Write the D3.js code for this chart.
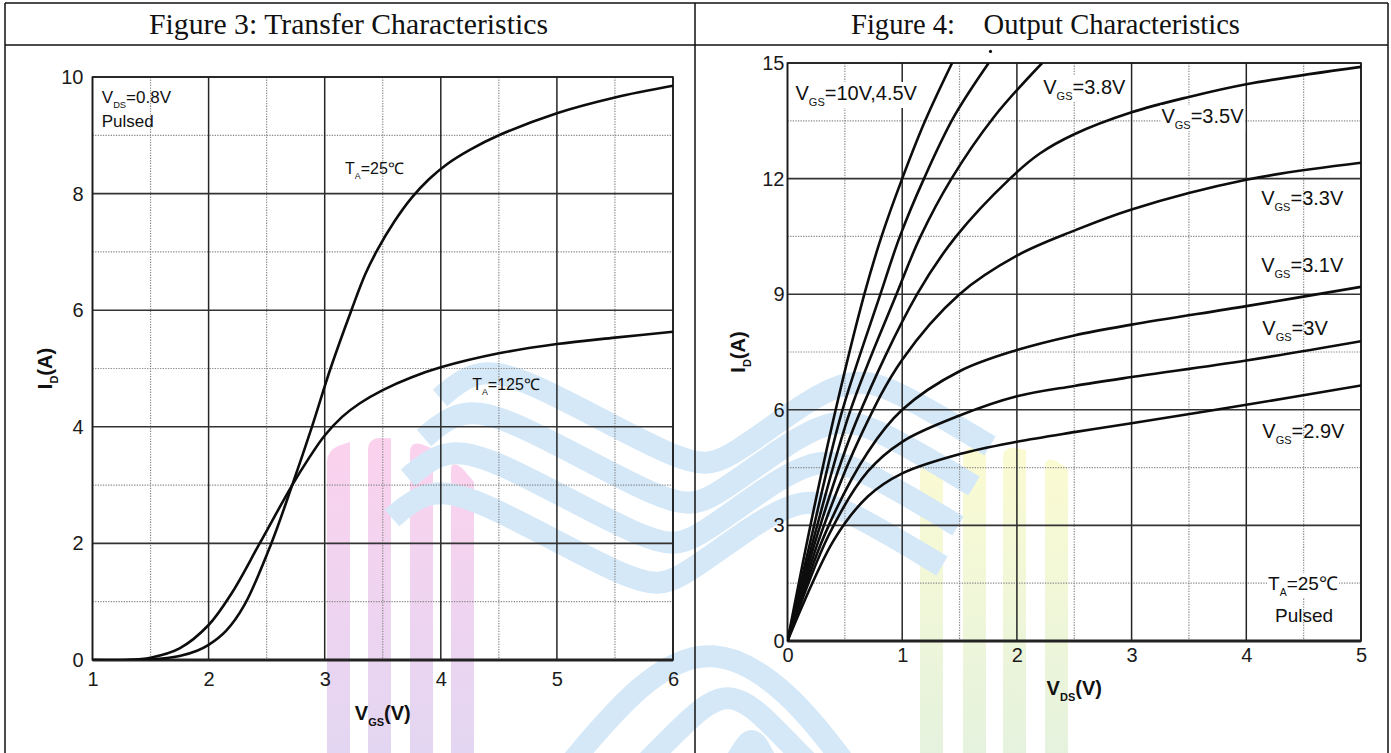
<!DOCTYPE html>
<html>
<head>
<meta charset="utf-8">
<script src="https://cdn.jsdelivr.net/npm/d3@7"></script>
<style>
  body { margin: 0; background: #fff; }
  svg { display: block; }
</style>
</head>
<body>
<svg id="chart" width="1391" height="753"></svg>
<script>
// ---------- Figure 3: transfer characteristics (VDS = 0.8 V) ----------
const transferTicksX = [1, 2, 3, 4, 5, 6];
const transferTicksY = [0, 2, 4, 6, 8, 10];
const transferMinorX = [1.5, 2.5, 3.5, 4.5, 5.5];
const transferMinorY = [1, 3, 5, 7, 9];

const vgs25 = [1.0, 1.3, 1.5, 1.75, 1.9, 2.0, 2.15, 2.31, 2.54, 2.72, 2.89, 3.05, 3.23, 3.35, 3.45, 3.6, 3.75, 3.9, 4.05, 4.25, 4.5, 5.0, 5.5, 6.0];
const id25  = [0, 0, 0.01, 0.07, 0.16, 0.26, 0.5, 0.95, 2.0, 3.0, 4.0, 5.0, 6.0, 6.62, 7.02, 7.52, 7.93, 8.25, 8.5, 8.75, 9.0, 9.38, 9.65, 9.85];

const vgs125 = [1.0, 1.3, 1.5, 1.75, 2.0, 2.2, 2.44, 2.72, 2.86, 3.0, 3.15, 3.3, 3.5, 3.75, 4.0, 4.5, 5.0, 5.5, 6.0];
const id125  = [0, 0, 0.04, 0.2, 0.6, 1.15, 2.0, 3.0, 3.45, 3.85, 4.17, 4.4, 4.63, 4.85, 5.02, 5.26, 5.42, 5.53, 5.63];

// ---------- Figure 4: output characteristics (TA = 25 C) ----------
const outputTicksX = [0, 1, 2, 3, 4, 5];
const outputTicksY = [0, 3, 6, 9, 12, 15];
const outputMinorX = [0.5, 1.5, 2.5, 3.5, 4.5];
const outputMinorY = [1.5, 4.5, 7.5, 10.5, 13.5];

const vds10V = [0, 0.2, 0.42, 0.67, 0.82, 1.0, 1.2, 1.435];
const id10V  = [0, 3.0, 6.0, 9.0, 10.5, 12.0, 13.5, 15.0];
const vds4V5 = [0, 0.22, 0.47, 0.81, 0.98, 1.19, 1.45, 1.754];
const id4V5  = [0, 2.85, 5.9, 9.0, 10.5, 12.0, 13.6, 15.0];
const vds3V8 = [0, 0.25, 0.55, 0.95, 1.16, 1.43, 1.8, 2.22];
const id3V8  = [0, 2.9, 6.0, 9.0, 10.5, 12.0, 13.6, 15.0];
const vds3V5 = [0, 0.27, 0.6, 1.13, 1.47, 1.94, 2.2, 2.5, 3.0, 3.5, 4.0, 5.0];
const id3V5  = [0, 2.85, 5.7, 9.0, 10.5, 12.0, 12.65, 13.15, 13.72, 14.12, 14.45, 14.9];
const vds3V3 = [0, 0.3, 0.65, 1.0, 1.5, 2.0, 2.5, 3.0, 4.0, 5.0];
const id3V3  = [0, 2.85, 5.4, 7.3, 9.0, 10.0, 10.65, 11.2, 11.97, 12.41];
const vds3V1 = [0, 0.33, 0.7, 1.0, 1.5, 2.0, 2.5, 3.0, 4.0, 5.0];
const id3V1  = [0, 2.8, 4.9, 6.0, 7.0, 7.55, 7.93, 8.21, 8.69, 9.19];
const vds3V  = [0, 0.36, 0.7, 1.0, 1.5, 2.0, 2.5, 3.0, 4.0, 5.0];
const id3V   = [0, 2.75, 4.4, 5.17, 5.85, 6.35, 6.62, 6.85, 7.28, 7.78];
const vds2V9 = [0, 0.4, 0.7, 1.0, 1.5, 2.0, 2.5, 3.0, 4.0, 5.0];
const id2V9  = [0, 2.6, 3.75, 4.35, 4.85, 5.17, 5.42, 5.65, 6.13, 6.63];

const W = 1391, H = 753;
const svg = d3.select("#chart");
const zip = (xs, ys) => xs.map((v, i) => [v, ys[i]]);

svg.append("rect").attr("width", W).attr("height", H).attr("fill", "#fff");

// ---------- faint logo watermark behind the plots ----------
const defs = svg.append("defs");
const gPink = defs.append("linearGradient").attr("id", "wmPink").attr("x1", 0).attr("x2", 0).attr("y1", 0).attr("y2", 1);
gPink.append("stop").attr("offset", "0%").attr("stop-color", "#fbd2ee");
gPink.append("stop").attr("offset", "100%").attr("stop-color", "#e3d6f2");
const gYellow = defs.append("linearGradient").attr("id", "wmYellow").attr("x1", 0).attr("x2", 0).attr("y1", 0).attr("y2", 1);
gYellow.append("stop").attr("offset", "0%").attr("stop-color", "#fbfbd2");
gYellow.append("stop").attr("offset", "100%").attr("stop-color", "#e5f2de");

const wm = svg.append("g").attr("class", "watermark");

function archBars(xs, barW, topY, cx, rx, ry, fill) {
  xs.forEach(x0 => {
    const p = d3.path();
    const top = x => topY + ry * (1 - Math.sqrt(Math.max(0, 1 - ((x - cx) / rx) ** 2)));
    const r = barW / 2;
    p.moveTo(x0, H);
    p.lineTo(x0, top(x0) + r);
    p.quadraticCurveTo(x0, top(x0), x0 + r, top(x0 + r));
    p.lineTo(x0 + barW, top(x0 + barW));
    p.lineTo(x0 + barW, H);
    p.closePath();
    wm.append("path").attr("d", p.toString()).attr("fill", fill);
  });
}
archBars([327, 368, 410, 451], 23, 438, 382, 105, 85, "url(#wmPink)");
archBars([920, 963, 1003, 1045], 23, 446, 990, 100, 60, "url(#wmYellow)");

const band = d3.line().curve(d3.curveBasis);
const waveBase = [[440, 398], [470, 372], [515, 370], [690, 470], [725, 462], [800, 405], [850, 378], [890, 386], [990, 446]];
for (let k = 0; k < 4; k++) {
  const pts = waveBase.map(([x, y]) => [x - 16 * k, y + 40 * k]);
  wm.append("path").attr("d", band(pts))
    .attr("fill", "none").attr("stroke", "#d4e8f8").attr("stroke-width", 22);
}
const archBase = [[565, 770], [640, 680], [712, 642], [790, 690], [850, 770]];
[[0, 0, 1], [60, 42, 0.62], [135, 85, 0.22]].forEach(([dx, dy, s]) => {
  const cx = 712;
  const pts = archBase.map(([x, y]) => [cx + (x - cx) * s + dx * 0.3, y + dy * (y < 760 ? 1 : 0)]);
  wm.append("path").attr("d", band(pts))
    .attr("fill", "none").attr("stroke", "#d4e8f8").attr("stroke-width", 22);
});

// ---------- shared drawing helpers ----------
const SANS = "'Liberation Sans', Arial, sans-serif";

function subText(g, x, y, parts, size, opts = {}) {
  const t = g.append("text")
    .attr("x", x).attr("y", y)
    .attr("font-family", SANS)
    .attr("font-size", size)
    .attr("font-weight", opts.bold ? "bold" : "normal")
    .attr("text-anchor", opts.anchor || "start")
    .attr("fill", "#111");
  let shifted = 0;
  parts.forEach(([str, sub]) => {
    const ts = t.append("tspan").text(str);
    if (sub) {
      ts.attr("font-size", size * 0.55).attr("dy", size * 0.3 - shifted);
      shifted = size * 0.3;
    } else if (shifted) {
      ts.attr("dy", -shifted);
      shifted = 0;
    }
  });
  return t;
}

function panel(cfg) {
  const { x, y, id } = cfg;
  const g = svg.append("g");
  const [x0, x1] = x.range();
  const [y0, y1] = y.range();

  g.append("clipPath").attr("id", id).append("rect")
    .attr("x", x0).attr("y", y1).attr("width", x1 - x0).attr("height", y0 - y1);

  // minor dotted grid
  g.selectAll(null).data(cfg.minorX).join("line")
    .attr("x1", d => x(d)).attr("x2", d => x(d)).attr("y1", y1).attr("y2", y0)
    .attr("stroke", "#8a8a8a").attr("stroke-width", 1.2).attr("stroke-dasharray", "1.3,1.3");
  g.selectAll(null).data(cfg.minorY).join("line")
    .attr("y1", d => y(d)).attr("y2", d => y(d)).attr("x1", x0).attr("x2", x1)
    .attr("stroke", "#8a8a8a").attr("stroke-width", 1.2).attr("stroke-dasharray", "1.3,1.3");

  // major solid grid
  g.selectAll(null).data(cfg.ticksX).join("line")
    .attr("x1", d => x(d)).attr("x2", d => x(d)).attr("y1", y1).attr("y2", y0)
    .attr("stroke", "#262626").attr("stroke-width", 1.5);
  g.selectAll(null).data(cfg.ticksY).join("line")
    .attr("y1", d => y(d)).attr("y2", d => y(d)).attr("x1", x0).attr("x2", x1)
    .attr("stroke", "#333").attr("stroke-width", 1.6);

  // frame, heavier along the zero line
  g.append("rect").attr("x", x0).attr("y", y1).attr("width", x1 - x0).attr("height", y0 - y1)
    .attr("fill", "none").attr("stroke", "#1a1a1a").attr("stroke-width", 1.6);
  g.append("line").attr("x1", x0).attr("x2", x1).attr("y1", y0).attr("y2", y0)
    .attr("stroke", "#222").attr("stroke-width", 3);

  // tick labels through d3 axes
  const ax = g.append("g").attr("transform", `translate(0,${y0})`)
    .call(d3.axisBottom(x).tickValues(cfg.ticksX).tickSize(0).tickPadding(cfg.padX).tickFormat(d3.format("d")));
  const ay = g.append("g").attr("transform", `translate(${x0},0)`)
    .call(d3.axisLeft(y).tickValues(cfg.ticksY).tickSize(0).tickPadding(cfg.padY).tickFormat(d3.format("d")));
  [ax, ay].forEach(a => {
    a.select(".domain").remove();
    a.attr("font-family", SANS).attr("font-size", 20);
    a.selectAll("text").attr("fill", "#1a1a1a");
  });

  // curves
  const line = d3.line().x(d => x(d[0])).y(d => y(d[1])).curve(d3.curveCatmullRom.alpha(0.5));
  g.append("g").attr("clip-path", `url(#${id})`)
    .selectAll("path").data(cfg.curves).join("path")
    .attr("d", line).attr("fill", "none")
    .attr("stroke", "#0d0d0d").attr("stroke-width", 2.6).attr("stroke-linejoin", "round");

  return g;
}

// ---------- Figure 3 ----------
const x3 = d3.scaleLinear().domain([1, 6]).range([92.5, 673]);
const y3 = d3.scaleLinear().domain([0, 10]).range([660, 77]);
const g3 = panel({
  id: "clip3", x: x3, y: y3,
  ticksX: transferTicksX, ticksY: transferTicksY,
  minorX: transferMinorX, minorY: transferMinorY,
  padX: 12, padY: 9,
  curves: [zip(vgs25, id25), zip(vgs125, id125)]
});
subText(g3, x3(1.08), y3(9.55), [["V"], ["DS", true], ["=0.8V"]], 17);
subText(g3, x3(1.08), y3(9.14), [["Pulsed"]], 17);
subText(g3, x3(3.175), y3(8.34), [["T"], ["A", true], ["=25\u2103"]], 16);
subText(g3, x3(4.27), y3(4.63), [["T"], ["A", true], ["=125\u2103"]], 16);
subText(g3, (x3.range()[0] + x3.range()[1]) / 2, 720, [["V"], ["GS", true], ["(V)"]], 20, { bold: true, anchor: "middle" });
const yl3 = g3.append("g").attr("transform", `translate(52,${(y3.range()[0] + y3.range()[1]) / 2}) rotate(-90)`);
subText(yl3, 0, 0, [["I"], ["D", true], ["(A)"]], 20, { bold: true, anchor: "middle" });

// ---------- Figure 4 ----------
const x4 = d3.scaleLinear().domain([0, 5]).range([787.5, 1361]);
const y4 = d3.scaleLinear().domain([0, 15]).range([641, 63]);
const g4 = panel({
  id: "clip4", x: x4, y: y4,
  ticksX: outputTicksX, ticksY: outputTicksY,
  minorX: outputMinorX, minorY: outputMinorY,
  padX: 7, padY: 3,
  curves: [zip(vds10V, id10V), zip(vds4V5, id4V5), zip(vds3V8, id3V8), zip(vds3V5, id3V5),
           zip(vds3V3, id3V3), zip(vds3V1, id3V1), zip(vds3V, id3V), zip(vds2V9, id2V9)]
});

function boxedLabel(g, vx, vy, parts, size) {
  const t = subText(g, x4(vx), y4(vy), parts, size);
  const b = t.node().getBBox();
  g.insert("rect", () => t.node())
    .attr("x", b.x - 1).attr("y", b.y).attr("width", b.width + 2).attr("height", b.height)
    .attr("fill", "#fff");
  return t;
}
boxedLabel(g4, 0.07, 14.04, [["V"], ["GS", true], ["=10V,4.5V"]], 20);
boxedLabel(g4, 2.23, 14.2, [["V"], ["GS", true], ["=3.8V"]], 20);
boxedLabel(g4, 3.26, 13.44, [["V"], ["GS", true], ["=3.5V"]], 20);
subText(g4, x4(4.13), y4(11.32), [["V"], ["GS", true], ["=3.3V"]], 20);
subText(g4, x4(4.13), y4(9.58), [["V"], ["GS", true], ["=3.1V"]], 20);
subText(g4, x4(4.14), y4(7.94), [["V"], ["GS", true], ["=3V"]], 20);
subText(g4, x4(4.14), y4(5.27), [["V"], ["GS", true], ["=2.9V"]], 20);
boxedLabel(g4, 4.19, 1.32, [["T"], ["A", true], ["=25\u2103"]], 19);
subText(g4, x4(4.25), y4(0.49), [["Pulsed"]], 19);
g4.append("circle").attr("cx", x4(1.77)).attr("cy", y4(15.3)).attr("r", 1.6).attr("fill", "#111");
subText(g4, (x4.range()[0] + x4.range()[1]) / 2, 695, [["V"], ["DS", true], ["(V)"]], 20, { bold: true, anchor: "middle" });
const yl4 = g4.append("g").attr("transform", `translate(745,${(y4.range()[0] + y4.range()[1]) / 2}) rotate(-90)`);
subText(yl4, 0, 0, [["I"], ["D", true], ["(A)"]], 20, { bold: true, anchor: "middle" });

// ---------- table frame and captions ----------
const frame = svg.append("g").attr("stroke", "#111").attr("stroke-width", 1.5).attr("fill", "none");
frame.append("line").attr("x1", 5).attr("x2", 1388).attr("y1", 3).attr("y2", 3);
frame.append("line").attr("x1", 5).attr("x2", 1388).attr("y1", 45).attr("y2", 45);
frame.append("line").attr("x1", 5).attr("x2", 5).attr("y1", 3).attr("y2", H);
frame.append("line").attr("x1", 695).attr("x2", 695).attr("y1", 3).attr("y2", H);
frame.append("line").attr("x1", 1388).attr("x2", 1388).attr("y1", 3).attr("y2", H);

const captions = ["Figure 3: Transfer Characteristics", "Figure 4:    Output Characteristics"];
const captionX = [348.5, 1045.5];
const captionW = [399, 389];
svg.selectAll(".caption").data(captions).join("text")
  .attr("class", "caption")
  .attr("x", (d, i) => captionX[i]).attr("y", 34)
  .attr("text-anchor", "middle")
  .attr("font-family", "'Liberation Serif', 'Times New Roman', serif")
  .attr("font-size", 29)
  .attr("textLength", (d, i) => captionW[i])
  .attr("lengthAdjust", "spacingAndGlyphs")
  .style("white-space", "pre")
  .attr("fill", "#111")
  .text(d => d);
</script>
</body>
</html>
